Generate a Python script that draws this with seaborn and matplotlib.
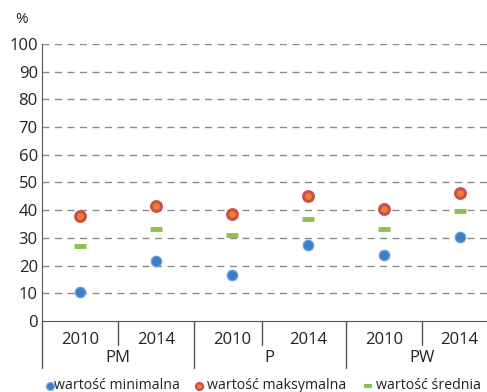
import matplotlib.pyplot as plt
import seaborn as sns
import pandas as pd
import numpy as np

# data
groups = ['PM', 'P', 'PW']
years = ['2010', '2014']
min_vals = [10.5, 21.5, 16.5, 27.4, 24.0, 30.2]
max_vals = [38.0, 41.6, 38.5, 45.2, 40.4, 46.3]
mean_vals = [27.0, 33.2, 31.0, 37.0, 33.1, 39.7]
y_ticks = [0, 10, 20, 30, 40, 50, 60, 70, 80, 90, 100]

sns.set_style('white')
plt.rcParams['font.family'] = ['Open Sans', 'DejaVu Sans']

pos = np.arange(len(min_vals))
df = pd.DataFrame({'x': pos, 'min': min_vals, 'max': max_vals, 'mean': mean_vals})

fig = plt.figure(figsize=(4.87, 3.92), dpi=100)
ax = fig.add_axes([0.0862, 0.181, 0.9138, 0.707])

for t in y_ticks[1:]:
    ax.axhline(t, color='#8a8a8a', lw=1, ls=(0, (5, 4)), zorder=0)

sns.scatterplot(data=df, x='x', y='min', ax=ax, color='#3b7dc8', s=55,
                edgecolor='#6a9fd8', linewidth=1, zorder=3)
sns.scatterplot(data=df, x='x', y='max', ax=ax, color='#f08028', s=50,
                edgecolor='#c9504a', linewidth=2.2, zorder=3)
sns.scatterplot(data=df, x='x', y='mean', ax=ax, color='#8cc152', marker='_', s=80,
                linewidth=3.5, zorder=3)

ax.set_xlim(-0.5, 5.36)
ax.set_ylim(0, 100)
ax.set_yticks(y_ticks)
ax.set_yticklabels([str(t) for t in y_ticks], fontsize=12, color='#222222')
ax.tick_params(axis='y', length=0, pad=3)
ax.set_xticks([])
ax.set_xlabel('')
ax.set_ylabel('')
for side in ['top', 'right']:
    ax.spines[side].set_visible(False)
ax.spines['left'].set_color('#555555')
ax.spines['bottom'].set_color('#555555')

trans = ax.get_xaxis_transform()
# year labels and separators
for i in pos:
    ax.text(i, -0.068, years[i % 2], transform=trans, ha='center', va='center',
            fontsize=12, color='#222222')
for s in [0.5, 2.4, 4.5]:
    ax.plot([s, s], [0, -0.085], transform=trans, color='#555555', lw=1, clip_on=False)
for s in [-0.5, 1.5, 3.5]:
    ax.plot([s, s], [0, -0.17], transform=trans, color='#555555', lw=1, clip_on=False)
for g, c in zip(groups, [0.5, 2.5, 4.5]):
    ax.text(c, -0.135, g, transform=trans, ha='center', va='center',
            fontsize=12, color='#222222')

fig.text(0.045, 0.95, '%', ha='center', va='center', fontsize=11, color='#222222')

# legend along the bottom
ly = 0.016
fig.lines.append(plt.Line2D([0.103], [ly], marker='o', ms=5.5, color='#3b7dc8',
                            mec='#6a9fd8', transform=fig.transFigure))
fig.text(0.111, ly, 'wartość minimalna', va='center', fontsize=10.2, color='#222222')
fig.lines.append(plt.Line2D([0.409], [ly], marker='o', ms=5, color='#f08028',
                            mec='#c9504a', mew=1.6, transform=fig.transFigure))
fig.text(0.425, ly, 'wartość maksymalna', va='center', fontsize=10.2, color='#222222')
fig.lines.append(plt.Line2D([0.755], [ly], marker='_', ms=6, mew=3, color='#8cc152',
                            transform=fig.transFigure))
fig.text(0.772, ly, 'wartość średnia', va='center', fontsize=10.2, color='#222222')

fig.savefig('out.png', dpi=100, facecolor='white')
